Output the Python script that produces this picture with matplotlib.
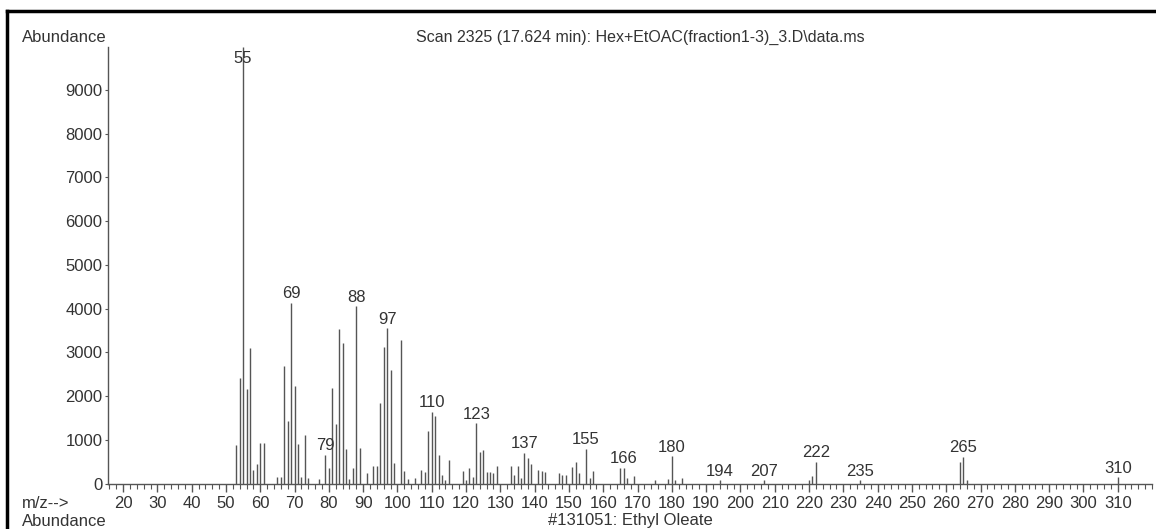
import matplotlib
matplotlib.use('Agg')
import matplotlib.pyplot as plt
from matplotlib.ticker import MultipleLocator

plt.rcParams['font.family'] = ['Liberation Sans', 'DejaVu Sans']

# m/z values and abundances
mz = [53, 54, 55, 56, 57, 58, 59, 60, 61, 65, 66, 67, 68, 69, 70, 71, 72, 73, 74, 77,
      79, 80, 81, 82, 83, 84, 85, 86, 87, 88, 89, 91, 93, 94, 95, 96, 97, 98, 99,
      101, 102, 103, 105, 107, 108, 109, 110, 111, 112, 113, 114, 115, 119, 120, 121,
      122, 123, 124, 125, 126, 127, 128, 129, 133, 134, 135, 136, 137, 138, 139, 141,
      142, 143, 147, 148, 149, 151, 152, 153, 155, 156, 157, 165, 166, 167, 169, 175,
      179, 180, 181, 183, 194, 207, 220, 221, 222, 235, 264, 265, 266, 310]
abundance = [870, 2410, 9990, 2150, 3100, 300, 440, 915, 915, 140, 160, 2680, 1420, 4130,
             2220, 900, 140, 1100, 115, 100,
             660, 350, 2180, 1350, 3540, 3220, 780, 100, 360, 4050, 820, 230, 400, 400,
             1830, 3130, 3550, 2600, 475,
             3270, 290, 110, 115, 305, 270, 1200, 1640, 1540, 650, 190, 90, 535, 290, 90,
             345, 150, 1375, 725, 765, 270, 270, 250, 400, 400, 190, 390, 130, 700, 590,
             435, 305, 280, 260, 230, 200, 200, 375, 500, 230, 800, 115, 285, 345, 360,
             130, 175, 75, 100, 620, 75, 115, 75, 75, 80, 175, 500, 75, 500, 610, 90, 150]
labeled = [55, 69, 79, 88, 97, 110, 123, 137, 155, 166, 180, 194, 207, 222, 235, 265, 310]

title = 'Scan 2325 (17.624 min): Hex+EtOAC(fraction1-3)_3.D\\data.ms'
library_hit = '#131051: Ethyl Oleate'

line_c = '#555555'
text_c = '#333333'

W, H = 1156, 529
fig = plt.figure(figsize=(W / 100, H / 100), dpi=100)
fig.patch.set_facecolor('white')

ax = fig.add_axes([108 / W, 1 - 483.5 / H, (1152 - 108) / W, (483.5 - 47) / H])
ax.vlines(mz, 0, abundance, colors=line_c, linewidth=1.0)

for m, a in zip(mz, abundance):
    if m not in labeled:
        continue
    if m == 55:
        ax.annotate(str(m), (m, a), xytext=(0, -3), textcoords='offset points',
                    ha='center', va='top', fontsize=12, color=text_c)
    else:
        ax.annotate(str(m), (m, a), xytext=(0, 1), textcoords='offset points',
                    ha='center', va='bottom', fontsize=12, color=text_c)

ax.set_xlim(15.6, 320)
ax.set_ylim(0, 9980)
ax.xaxis.set_major_locator(MultipleLocator(10))
ax.xaxis.set_minor_locator(MultipleLocator(2))
ax.set_xticks(range(20, 311, 10))
ax.set_yticks(range(0, 9001, 1000))

for s in ['top', 'right']:
    ax.spines[s].set_visible(False)
for s in ['left', 'bottom']:
    ax.spines[s].set_color(line_c)
    ax.spines[s].set_linewidth(1.0)

ax.tick_params(axis='x', which='major', length=6, width=1, color=line_c,
               labelsize=12, labelcolor=text_c, pad=3)
ax.tick_params(axis='x', which='minor', length=3.5, width=0.8, color=line_c)
ax.tick_params(axis='y', which='major', length=2, width=0.8, color=line_c,
               labelsize=12, labelcolor=text_c, pad=2)
ax.patch.set_alpha(0)

# header and footer texts
fig.text(22 / W, 1 - 37 / H, 'Abundance', fontsize=12, color=text_c, va='center', ha='left')
fig.text(640 / W, 1 - 37 / H, title, fontsize=11.5, color=text_c, va='center', ha='center')
fig.text(22 / W, 1 - 503 / H, 'm/z-->', fontsize=12, color=text_c, va='center', ha='left')
fig.text(22 / W, 1 - 521 / H, 'Abundance', fontsize=12, color=text_c, va='center', ha='left')
fig.text(630 / W, 1 - 521 / H, library_hit, fontsize=12, color=text_c, va='center', ha='center')

# scanned page border (top and left)
fig.add_artist(plt.Line2D([7 / W, 1], [1 - 11 / H, 1 - 11 / H], color='black', linewidth=2.5))
fig.add_artist(plt.Line2D([7 / W, 7 / W], [0, 1 - 11 / H], color='black', linewidth=2.5))

fig.savefig('out.png', dpi=100)
